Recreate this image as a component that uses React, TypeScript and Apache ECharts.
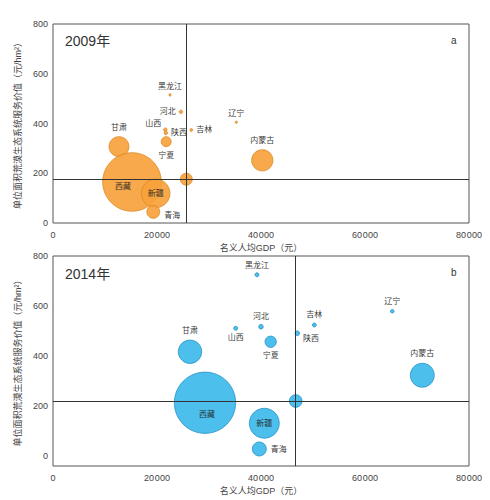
import React, { useEffect, useRef } from "react";
import * as echarts from "echarts";

const provinces = ["黑龙江", "河北", "山西", "陕西", "吉林", "辽宁", "内蒙古", "甘肃", "宁夏", "西藏", "新疆", "青海", "平均"];

const gdp2009 = [22500, 24600, 21600, 21700, 26600, 35250, 40250, 12690, 21770, 15190, 19750, 19290, 25630];
const value2009 = [515, 447, 375, 362, 374, 405, 252, 307, 327, 165, 119, 45, 176];
const scale2009 = [1.4, 3, 3.2, 3.2, 2, 1.4, 114, 100, 25, 860, 205, 42, 36];

const gdp2014 = [39230, 40000, 35130, 46980, 50250, 65250, 71020, 26350, 41860, 29230, 40640, 39680, 46670];
const value2014 = [725, 517, 511, 491, 524, 579, 323, 417, 457, 213, 131, 28, 220];
const scale2014 = [4, 5.3, 4, 5.3, 4, 3.2, 144, 137, 32, 940, 225, 49, 40];

const mean2009 = { gdp: 25630, value: 176 };
const mean2014 = { gdp: 46670, value: 220 };

const xTicks = [0, 20000, 40000, 60000, 80000];
const yTicks = [0, 200, 400, 600, 800];

const labelPos2009: Record<string, any> = {
  黑龙江: { position: "top", distance: 3 },
  河北: { position: "left", distance: 3 },
  山西: { position: "left", distance: 2, offset: [0, -6] },
  陕西: { position: "right", distance: 3 },
  吉林: { position: "right", distance: 3 },
  辽宁: { position: "top", distance: 3 },
  内蒙古: { position: "top", distance: 5 },
  甘肃: { position: "top", distance: 5 },
  宁夏: { position: "bottom", distance: 4 },
  西藏: { position: "inside", offset: [-9, 5] },
  新疆: { position: "inside" },
  青海: { position: "right", distance: 4, offset: [0, 4] },
};

const labelPos2014: Record<string, any> = {
  黑龙江: { position: "top", distance: 3 },
  河北: { position: "top", distance: 4 },
  山西: { position: "bottom", distance: 3 },
  陕西: { position: "right", distance: 3, offset: [0, 5] },
  吉林: { position: "top", distance: 4 },
  辽宁: { position: "top", distance: 4 },
  内蒙古: { position: "top", distance: 5 },
  甘肃: { position: "top", distance: 5 },
  宁夏: { position: "bottom", distance: 4 },
  西藏: { position: "inside", offset: [2, 12] },
  新疆: { position: "inside" },
  青海: { position: "right", distance: 4 },
};

const FONT = "'Liberation Sans', 'Noto Sans CJK SC', sans-serif";

function buildData(gdp: number[], val: number[], scale: number[], pos: Record<string, any>) {
  return provinces.map((p, i) => {
    const lp = pos[p];
    return {
      name: p,
      value: [gdp[i], val[i], scale[i]],
      label: lp
        ? { show: true, formatter: p, ...lp }
        : { show: false },
    };
  });
}

const fmtX = (v: number) => (v === 0 ? "0" : `${Math.round(v / 1000)}\u200A000`);

export default function App() {
  const ref = useRef<HTMLDivElement>(null);
  useEffect(() => {
    if (!ref.current) return;
    const chart = echarts.init(ref.current, null, { renderer: "svg" });
    const axisLabel = { color: "#444", fontSize: 9, fontFamily: FONT };
    const xAxisBase = (gridIndex: number) => ({
      type: "value",
      gridIndex,
      min: 0,
      max: 80000,
      interval: 20000,
      splitLine: { show: false },
      axisTick: { show: false },
      axisLine: { show: false },
      axisLabel: { ...axisLabel, margin: 7, formatter: fmtX },
      name: "名义人均GDP（元）",
      nameLocation: "middle",
      nameGap: 20,
      nameTextStyle: { color: "#444", fontSize: 9, fontFamily: FONT },
    });
    const yName = "单位面积荒漠生态系统服务价值（元/hm²）";
    const yAxisBase = (gridIndex: number, min: number) => ({
      type: "value",
      gridIndex,
      min,
      max: 800,
      interval: 40,
      splitLine: { show: false },
      axisTick: { show: false },
      axisLine: { show: false },
      axisLabel: {
        ...axisLabel,
        margin: 5,
        formatter: (v: number) => (yTicks.includes(v) ? String(v) : ""),
      },
      name: yName,
      nameLocation: "middle",
      nameGap: 27,
      nameTextStyle: { color: "#444", fontSize: 9, fontFamily: FONT },
    });

    const mkSeries = (
      idx: number,
      data: any[],
      mean: { gdp: number; value: number },
      fill: string,
      border: string
    ) => ({
      type: "scatter",
      xAxisIndex: idx,
      yAxisIndex: idx,
      data,
      symbolSize: (v: number[]) => 2 * Math.sqrt(v[2]),
      itemStyle: { color: fill, borderColor: border, borderWidth: 0.8, opacity: 0.92 },
      label: { color: "#222", fontSize: 8, fontFamily: FONT },
      emphasis: { disabled: true },
      markLine: {
        silent: true,
        symbol: ["none", "none"],
        label: { show: false },
        lineStyle: { color: "#333", width: 1, type: "solid" },
        data: [{ xAxis: mean.gdp }, { yAxis: mean.value }],
      },
    });

    chart.setOption({
      animation: false,
      backgroundColor: "#fff",
      textStyle: { fontFamily: FONT },
      grid: [
        { left: 53, top: 24, width: 416, height: 199, show: true, borderColor: "#555", borderWidth: 1, backgroundColor: "transparent" },
        { left: 53, top: 256, width: 416, height: 210, show: true, borderColor: "#555", borderWidth: 1, backgroundColor: "transparent" },
      ],
      xAxis: [xAxisBase(0), xAxisBase(1)],
      yAxis: [yAxisBase(0, 0), yAxisBase(1, -40)],
      series: [
        mkSeries(0, buildData(gdp2009, value2009, scale2009, labelPos2009), mean2009, "#F6A23C", "#D9851F"),
        mkSeries(1, buildData(gdp2014, value2014, scale2014, labelPos2014), mean2014, "#3DBAEA", "#1D8CC2"),
      ],
      graphic: [
        { type: "text", left: 65, top: 34, style: { text: "2009年", fontSize: 14, fill: "#333", fontFamily: FONT } },
        { type: "text", left: 451, top: 35, style: { text: "a", fontSize: 10, fill: "#333", fontFamily: FONT } },
        { type: "text", left: 65, top: 267, style: { text: "2014年", fontSize: 14, fill: "#333", fontFamily: FONT } },
        { type: "text", left: 451, top: 267, style: { text: "b", fontSize: 10, fill: "#333", fontFamily: FONT } },
      ],
    });
    return () => chart.dispose();
  }, []);
  return (
    <div
      ref={ref}
      style={{ position: "absolute", left: 0, top: 0, width: 490, height: 500, background: "#fff" }}
    />
  );
}
